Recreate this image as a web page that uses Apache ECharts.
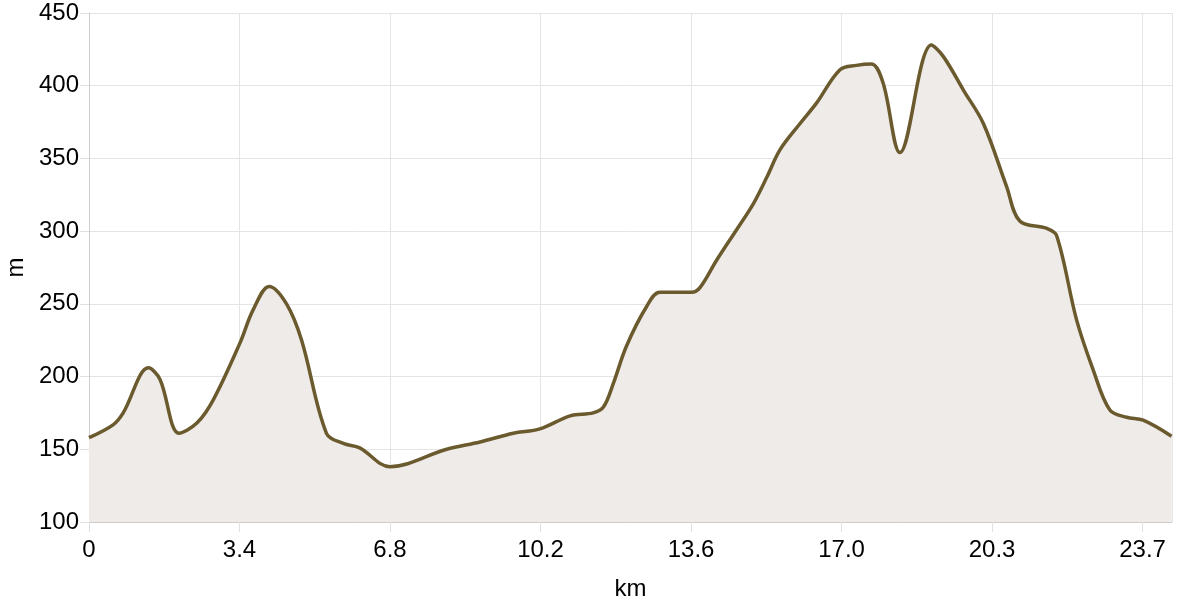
<!DOCTYPE html>
<html>
<head>
<meta charset="utf-8">
<script src="https://cdn.jsdelivr.net/npm/echarts@6/dist/echarts.min.js"></script>
<style>
html,body{margin:0;padding:0;background:#fff;}
#main{width:1200px;height:600px;}
</style>
</head>
<body>
<div id="main"></div>
<script>
// distance along the track (km) and elevation (m)
var distKm = [0, 0.55, 0.77, 1.34, 1.60, 2.03, 2.43, 2.80, 3.40, 3.70, 4.06, 4.45, 4.79, 5.35, 5.73, 6.10,
  6.78, 8.06, 8.81, 9.56, 10.16, 10.84, 11.36, 11.59, 11.81, 12.11, 12.56, 12.86, 13.58, 13.76, 14.14, 14.59, 14.97,
  15.27, 15.57, 16.02, 16.39, 16.92, 17.29, 17.63, 17.89, 18.27, 18.98, 19.25, 19.70, 20.15,
  20.67, 20.97, 21.57, 21.80, 22.25, 22.62, 23.00, 23.38, 23.75, 24.39];
var elevM = [158, 167, 175, 206, 198, 161, 168, 184, 223, 246, 262, 250, 225, 161, 154, 151,
  138, 150, 155, 161, 164, 173, 175, 179, 195, 221, 248, 258, 258, 261, 280, 301, 319,
  337, 356, 374, 388, 411, 414, 415, 402, 354, 428, 420, 397, 374,
  331, 307, 302, 297, 239, 205, 177, 172, 170, 159];
var kmStep = 3.391;
var kmMax = 24.4;
var mMin = 100, mMax = 450, mStep = 50;

var points = distKm.map(function (d, i) { return [d, elevM[i]]; });

var chart = echarts.init(document.getElementById('main'));
var font = 'Liberation Sans, Arial, sans-serif';
var option = {
  animation: false,
  grid: { left: 89, right: 28, top: 13, bottom: 78, containLabel: false, outerBoundsMode: 'none' },
  xAxis: {
    type: 'value',
    min: 0,
    max: kmMax,
    interval: kmStep,
    name: 'km',
    nameLocation: 'middle',
    nameGap: 55,
    nameTextStyle: { color: '#000', fontSize: 24, fontFamily: font },
    axisLine: { show: true, lineStyle: { color: '#cccccc', width: 1 } },
    axisTick: { show: true, length: 10, lineStyle: { color: '#e0e0e0' } },
    axisLabel: {
      color: '#000', fontSize: 24, fontFamily: font, margin: 16,
      showMaxLabel: false,
      formatter: function (v) { return v === 0 ? '0' : v.toFixed(1); }
    },
    splitLine: { show: true, lineStyle: { color: '#e4e4e4', width: 1 } }
  },
  yAxis: {
    type: 'value',
    min: mMin,
    max: mMax,
    interval: mStep,
    name: 'm',
    nameLocation: 'middle',
    nameGap: 59,
    nameTextStyle: { color: '#000', fontSize: 24, fontFamily: font },
    axisLine: { show: true, lineStyle: { color: '#cccccc', width: 1 } },
    axisTick: { show: true, length: 9, lineStyle: { color: '#e0e0e0' } },
    axisLabel: { color: '#000', fontSize: 24, fontFamily: font, margin: 10 },
    splitLine: { show: true, lineStyle: { color: '#e4e4e4', width: 1 } }
  },
  series: [{
    type: 'line',
    data: points,
    smooth: 0.35,
    symbol: 'none',
    lineStyle: { color: '#6b5a2e', width: 3.5 },
    areaStyle: { color: '#efebe8', opacity: 1 }
  }]
};
chart.setOption(option);
</script>
</body>
</html>
